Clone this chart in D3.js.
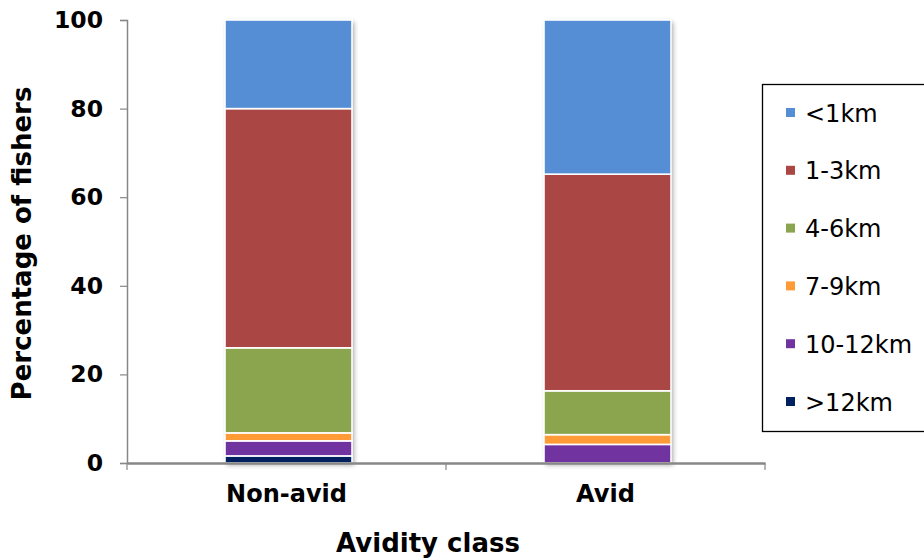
<!DOCTYPE html>
<html>
<head>
<meta charset="utf-8">
<script src="https://cdn.jsdelivr.net/npm/d3@7"></script>
<style>
  html, body { margin: 0; padding: 0; background: #fff; }
  svg { display: block; font-family: "DejaVu Sans", Verdana, sans-serif; }
</style>
</head>
<body>
<svg id="chart" width="924" height="559"></svg>
<script>
// Share of fishers (%) by distance travelled, for each avidity class
const categories = ["Non-avid", "Avid"];
const seriesNames = ["<1km", "1-3km", "4-6km", "7-9km", "10-12km", ">12km"];
const seriesColors = ["#558ED5", "#AA4744", "#8BA54F", "#FF9B37", "#7133A0", "#002060"];
// values per series, ordered as categories
const lt1km   = [20.0, 34.8];
const km1to3  = [54.0, 48.9];
const km4to6  = [19.2, 9.9];
const km7to9  = [1.8, 2.2];
const km10to12 = [3.4, 4.2];
const gt12km  = [1.6, 0.0];
const yTicks = [0, 20, 40, 60, 80, 100];

const seriesValues = {
  "<1km": lt1km, "1-3km": km1to3, "4-6km": km4to6,
  "7-9km": km7to9, "10-12km": km10to12, ">12km": gt12km
};

const svg = d3.select("#chart");
const margin = { left: 127, right: 159, top: 20, bottom: 96 };
const W = 924, H = 559;

const x = d3.scaleBand().domain(categories)
  .range([margin.left, W - margin.right]).paddingInner(0).paddingOuter(0);
const y = d3.scaleLinear().domain([0, 100]).range([H - margin.bottom, margin.top]);

// stack from bottom (>12km) up to top (<1km)
const stackOrder = seriesNames.slice().reverse();
const rows = categories.map((c, i) => {
  const r = { cat: c };
  stackOrder.forEach(s => r[s] = seriesValues[s][i]);
  return r;
});
const stacked = d3.stack().keys(stackOrder)(rows);
const color = d3.scaleOrdinal().domain(seriesNames).range(seriesColors);

const defs = svg.append("defs");
const f = defs.append("filter").attr("id", "shadow")
  .attr("x", "-10%").attr("y", "-10%").attr("width", "130%").attr("height", "120%");
f.append("feGaussianBlur").attr("in", "SourceAlpha").attr("stdDeviation", 2.5).attr("result", "b");
f.append("feOffset").attr("in", "b").attr("dx", 2).attr("dy", 2).attr("result", "o");
f.append("feComponentTransfer").attr("in", "o").attr("result", "s")
  .append("feFuncA").attr("type", "linear").attr("slope", 0.35);
const m = f.append("feMerge");
m.append("feMergeNode").attr("in", "s");
m.append("feMergeNode").attr("in", "SourceGraphic");

const barW = 127;
const barX = d => x(d) + x.bandwidth() / 2 - barW / 2 + 2;
const barG = svg.append("g");
// shadow behind each full bar
barG.selectAll("rect.bg").data(categories).join("rect")
  .attr("class", "bg")
  .attr("x", d => barX(d))
  .attr("width", barW)
  .attr("y", y(100)).attr("height", y(0) - y(100))
  .attr("fill", "#fff")
  .attr("filter", "url(#shadow)");

stacked.forEach(layer => {
  barG.selectAll(null).data(layer).join("rect")
    .attr("x", d => barX(d.data.cat))
    .attr("width", barW)
    .attr("y", d => y(d[1]))
    .attr("height", d => Math.max(0, y(d[0]) - y(d[1])))
    .attr("fill", color(layer.key))
    .attr("stroke", "#fff")
    .attr("stroke-width", d => (d[1] - d[0]) > 0 ? 1.6 : 0);
});

// axes
const axisColor = "#878787";
const yAxis = svg.append("g").attr("transform", `translate(${margin.left},0)`)
  .call(d3.axisLeft(y).tickValues(yTicks).tickSize(7).tickPadding(17));
yAxis.select(".domain").attr("stroke", axisColor).attr("stroke-width", 1.5);
yAxis.selectAll(".tick line").attr("stroke", axisColor).attr("stroke-width", 1.2);
yAxis.selectAll(".tick text").attr("font-size", 23.5).attr("font-weight", "bold")
  .attr("fill", "#000").attr("font-family", "DejaVu Sans, Verdana, sans-serif");

const xAxis = svg.append("g").attr("transform", `translate(0,${y(0)})`)
  .call(d3.axisBottom(x).tickSize(0).tickPadding(22));
xAxis.select(".domain").attr("stroke", axisColor).attr("stroke-width", 2.5);
xAxis.selectAll(".tick text").attr("font-size", 24).attr("font-weight", "bold")
  .attr("fill", "#000").attr("font-family", "DejaVu Sans, Verdana, sans-serif");
// boundary tick marks at band edges
const edges = [x.range()[0], ...categories.map(c => x(c) + x.bandwidth())];
xAxis.selectAll("line.edge").data(edges).join("line")
  .attr("class", "edge")
  .attr("x1", d => d).attr("x2", d => d)
  .attr("y1", 0).attr("y2", 7)
  .attr("stroke", axisColor).attr("stroke-width", 1.2);

// axis titles
svg.append("text")
  .attr("transform", `translate(31,${(y(0) + y(100)) / 2 + 2}) rotate(-90)`)
  .attr("text-anchor", "middle")
  .attr("font-size", 26).attr("font-weight", "bold")
  .text("Percentage of fishers");
svg.append("text")
  .attr("x", 428).attr("y", 552)
  .attr("text-anchor", "middle")
  .attr("font-size", 26).attr("font-weight", "bold")
  .text("Avidity class");

// legend
const lg = svg.append("g");
lg.append("rect").attr("x", 762.5).attr("y", 84.5).attr("width", 170).attr("height", 347)
  .attr("fill", "#fff").attr("stroke", "#000").attr("stroke-width", 1.3);
const rowY = d3.scalePoint().domain(seriesNames).range([113, 402]);
const items = lg.selectAll("g.item").data(seriesNames).join("g")
  .attr("class", "item")
  .attr("transform", d => `translate(786,${rowY(d)})`);
items.append("rect").attr("x", 0).attr("y", -5).attr("width", 9).attr("height", 9)
  .attr("fill", d => color(d));
items.append("text").attr("x", 19).attr("y", 8.5)
  .attr("font-size", 24).attr("fill", "#000")
  .text(d => d);
</script>
</body>
</html>
